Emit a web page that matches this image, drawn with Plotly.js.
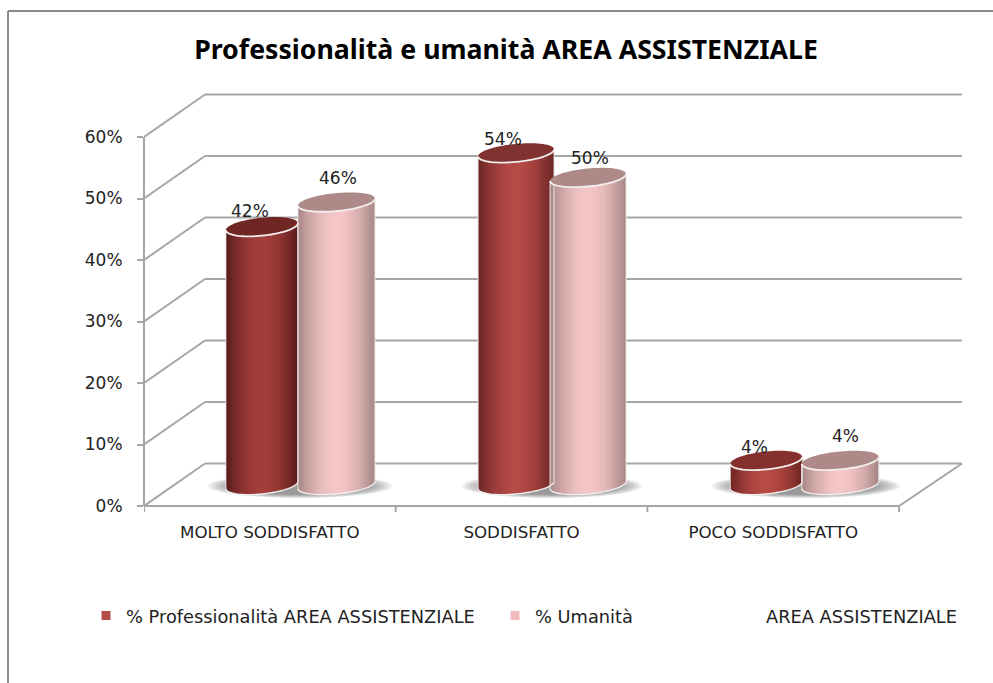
<!DOCTYPE html>
<html><head><meta charset="utf-8">
<script src="https://cdn.plot.ly/plotly-3.0.1.min.js"></script>
<style>html,body{margin:0;padding:0;background:#fff}#c{width:993px;height:683px}</style>
</head><body><div id="c"></div>
<script>
const categories = ['MOLTO SODDISFATTO', 'SODDISFATTO', 'POCO SODDISFATTO'];
const seriesNames = ['% Professionalità AREA ASSISTENZIALE', '% Umanità', 'AREA ASSISTENZIALE'];
const professionalita = [42, 54, 4];
const umanita = [46, 50, 4];
const yTicks = [0, 10, 20, 30, 40, 50, 60];
const titleText = 'Professionalità e umanità AREA ASSISTENZIALE';

const W = 993, H = 683, L = 144, R = 970, T = 88, B = 506;
const catPx = 251.7, valPx = 6.15;
const ux = p => p / catPx, uy = p => p / valPx;
const paperX = p => (p - L) / (R - L), paperY = p => (B - p) / (B - T);
const depthX = ux(61), depthY = uy(42.5);
const GRID = '#a6a6a6', FONT = '"DejaVu Sans", sans-serif', TXT = '#222';
const baseY = uy(21), ry = uy(9), tilt = uy(3.5), STRIPS = 36;

const mix = (a, b, t) => {
  const c = s => [1, 3, 5].map(i => parseInt(s.substr(i, 2), 16));
  const A = c(a), B2 = c(b);
  return 'rgb(' + A.map((v, i) => Math.round(v + (B2[i] - v) * t)).join(',') + ')';
};

const looks = [
  { name: seriesNames[0], values: professionalita, off: [-8, -5.5, -7], rx: [36, 38, 36],
    edge: ['#561b1b', '#662523', '#6a2421'], mid: ['#a33e3a', '#b54a46', '#b84a44'],
    top: ['#702623', '#7f3230', '#86302e'], swatch: '#b34b48',
    lab: [[-12, -16], [-13, -14], [-12, -13]] },
  { name: seriesNames[1], values: umanita, off: [66.6, 66.5, 67], rx: [38.5, 38, 38.5],
    edge: ['#a58584', '#a58584', '#a58584'], mid: ['#f5c6c6', '#f5c6c6', '#f5c6c6'],
    top: ['#ad8a87', '#ad8a87', '#ad8a87'], swatch: '#f0bcbc',
    lab: [[2, -24], [2, -20], [5, -24]] }
];

const traces = [], backShapes = [], frontShapes = [], notes = [];
const line = (x0, y0, x1, y1, extra) => Object.assign(
  { type: 'line', x0, y0, x1, y1, xref: 'x', yref: 'y', layer: 'below', line: { color: GRID, width: 2 } }, extra || {});

// walls and floor
yTicks.forEach(v => {
  backShapes.push(line(0, v, depthX, v + depthY));
  backShapes.push(line(depthX, v + depthY, ux(962 - L), v + depthY));
});
backShapes.push(line(3, 0, ux(962 - L), depthY));
backShapes.push(line(0, 0, 3, 0, { yref: 'paper', y0: 0, y1: 0 }));
backShapes.push(line(0, 0, 0, 60, { xref: 'paper', x0: 0, x1: 0 }));
[0, 1, 2, 3].forEach(i => backShapes.push(line(i, 0, i, 0, { yref: 'paper', y0: 0, y1: -6 / (B - T) })));

// frame of the picture
const pl = { xref: 'paper', yref: 'paper', layer: 'below', line: { color: '#8c8c8c', width: 2 } };
frontShapes.push(Object.assign({ type: 'line', x0: paperX(8), x1: paperX(8), y0: paperY(11), y1: paperY(690) }, pl));
frontShapes.push(Object.assign({ type: 'line', x0: paperX(8), x1: paperX(993), y0: paperY(11), y1: paperY(11) }, pl));

// floor shadows
[[300, 92], [552, 90], [806, 94]].forEach(s => {
  [1, .96, .92, .88, .84, .8, .76, .72].forEach(k => backShapes.push({
    type: 'circle', xref: 'x', yref: 'y', layer: 'below',
    x0: ux(s[0] - s[1] * k - L), x1: ux(s[0] + s[1] * k - L),
    y0: uy(506 - 486 - 12 * k), y1: uy(506 - 486 + 12 * k),
    fillcolor: '#5e5e5e', opacity: .11, line: { width: 0 }
  }));
});

looks.forEach(s => {
  const xs = [], ys = [], bs = [], ws = [], cs = [];
  s.values.forEach((v, i) => {
    const cx = i + .5 + ux(s.off[i]), rx = ux(s.rx[i]);
    const topY = baseY + v;
    for (let k = 0; k < STRIPS; k++) {
      const u = -1 + (2 * k + 1) / STRIPS;
      const bottom = baseY - ry * Math.sqrt(1 - u * u) + tilt * u;
      const top = topY + tilt * u;
      xs.push(cx + rx * u);
      bs.push(bottom);
      ys.push(top - bottom);
      ws.push(2 * rx / STRIPS * 1.25);
      cs.push(mix(s.edge[i], s.mid[i], 1 - Math.pow(Math.abs(u), 1.8)));
    }
    // top ellipse and outlines
    let ell = '', arc = '', out = '';
    for (let a = 0; a <= 72; a++) {
      const t = a / 72 * 2 * Math.PI;
      ell += (a ? 'L' : 'M') + (cx + rx * Math.cos(t)) + ' ' + (topY + ry * Math.sin(t) + tilt * Math.cos(t));
    }
    for (let a = 0; a <= 36; a++) {
      const t = Math.PI + a / 36 * Math.PI;
      arc += (a ? 'L' : 'M') + (cx + rx * Math.cos(t)) + ' ' + (topY + ry * Math.sin(t) + tilt * Math.cos(t));
      out += (a ? 'L' : 'M') + (cx + rx * Math.cos(t)) + ' ' + (baseY + ry * Math.sin(t) + tilt * Math.cos(t));
    }
    frontShapes.push({ type: 'path', path: 'M' + (cx - rx) + ' ' + (topY - tilt) + 'L' + (cx - rx) + ' ' + (baseY - tilt), xref: 'x', yref: 'y', layer: 'above', line: { color: '#ece4e4', width: 1 } });
    frontShapes.push({ type: 'path', path: 'M' + (cx + rx) + ' ' + (topY + tilt) + 'L' + (cx + rx) + ' ' + (baseY + tilt), xref: 'x', yref: 'y', layer: 'above', line: { color: '#ece4e4', width: 1 } });
    frontShapes.push({ type: 'path', path: out, xref: 'x', yref: 'y', layer: 'above', line: { color: '#f2eeee', width: 1.4 } });
    frontShapes.push({ type: 'path', path: ell + 'Z', xref: 'x', yref: 'y', layer: 'above', fillcolor: s.top[i], line: { width: 0 } });
    frontShapes.push({ type: 'path', path: arc, xref: 'x', yref: 'y', layer: 'above', line: { color: '#f4efef', width: 1.8 } });
    notes.push({ x: cx, y: topY, xref: 'x', yref: 'y', text: v + '%', showarrow: false,
      xshift: s.lab[i][0], yshift: -s.lab[i][1], font: { family: FONT, size: 17, color: TXT } });
  });
  traces.push({ type: 'bar', x: xs, y: ys, base: bs, width: ws, marker: { color: cs, line: { width: 0 } }, showlegend: false, hoverinfo: 'skip' });
});

// legend entries: one small legend per entry, as they are spread across the picture
[[looks[0].name, looks[0].swatch, 1, 'legend'], [looks[1].name, looks[1].swatch, 1, 'legend2'], [seriesNames[2], '#ffffff', 0, 'legend3']].forEach(e => {
  traces.push({ type: 'scatter', mode: 'markers', x: [null], y: [null], name: e[0], legend: e[3],
    marker: { symbol: 'square', size: 9, color: e[1], opacity: e[2] }, hoverinfo: 'skip' });
});
const legendAt = px => ({ xref: 'container', yref: 'container', x: px / W, y: 1 - 616 / H, xanchor: 'left', yanchor: 'middle',
  font: { family: FONT, size: 17.8, color: TXT }, itemclick: false, itemdoubleclick: false, bgcolor: 'rgba(0,0,0,0)', borderwidth: 0 });

const layout = {
  width: W, height: H, autosize: false, showlegend: true, barmode: 'overlay', bargap: 0,
  margin: { l: L, r: W - R, t: T, b: H - B, pad: 0, autoexpand: false },
  paper_bgcolor: '#fff', plot_bgcolor: 'rgba(0,0,0,0)',
  title: { text: titleText, x: 506 / W, xref: 'container', xanchor: 'center', y: 1 - 50 / H, yref: 'container', yanchor: 'middle',
    font: { family: '"Noto Sans", sans-serif', size: 26.7, color: '#000', weight: 700 } },
  xaxis: { range: [0, (R - L) / catPx], tickmode: 'array', tickvals: [.5, 1.5, 2.5], ticktext: categories, tickangle: 0,
    automargin: false, ticks: '', showgrid: false, zeroline: false, showline: false, ticklabelstandoff: 14,
    tickfont: { family: FONT, size: 16.7, color: TXT } },
  yaxis: { range: [0, (B - T) / valPx], tickmode: 'array', tickvals: yTicks, ticktext: yTicks.map(v => v + '%'),
    automargin: false, ticks: 'outside', ticklen: 6, tickwidth: 2, tickcolor: GRID, showgrid: false, zeroline: false, showline: false,
    ticklabelstandoff: 11, tickfont: { family: FONT, size: 17, color: TXT } },
  legend: legendAt(86), legend2: legendAt(495), legend3: legendAt(726),
  shapes: backShapes.concat(frontShapes),
  annotations: notes
};
Plotly.newPlot('c', traces, layout, { displayModeBar: false, staticPlot: true });
</script></body></html>
